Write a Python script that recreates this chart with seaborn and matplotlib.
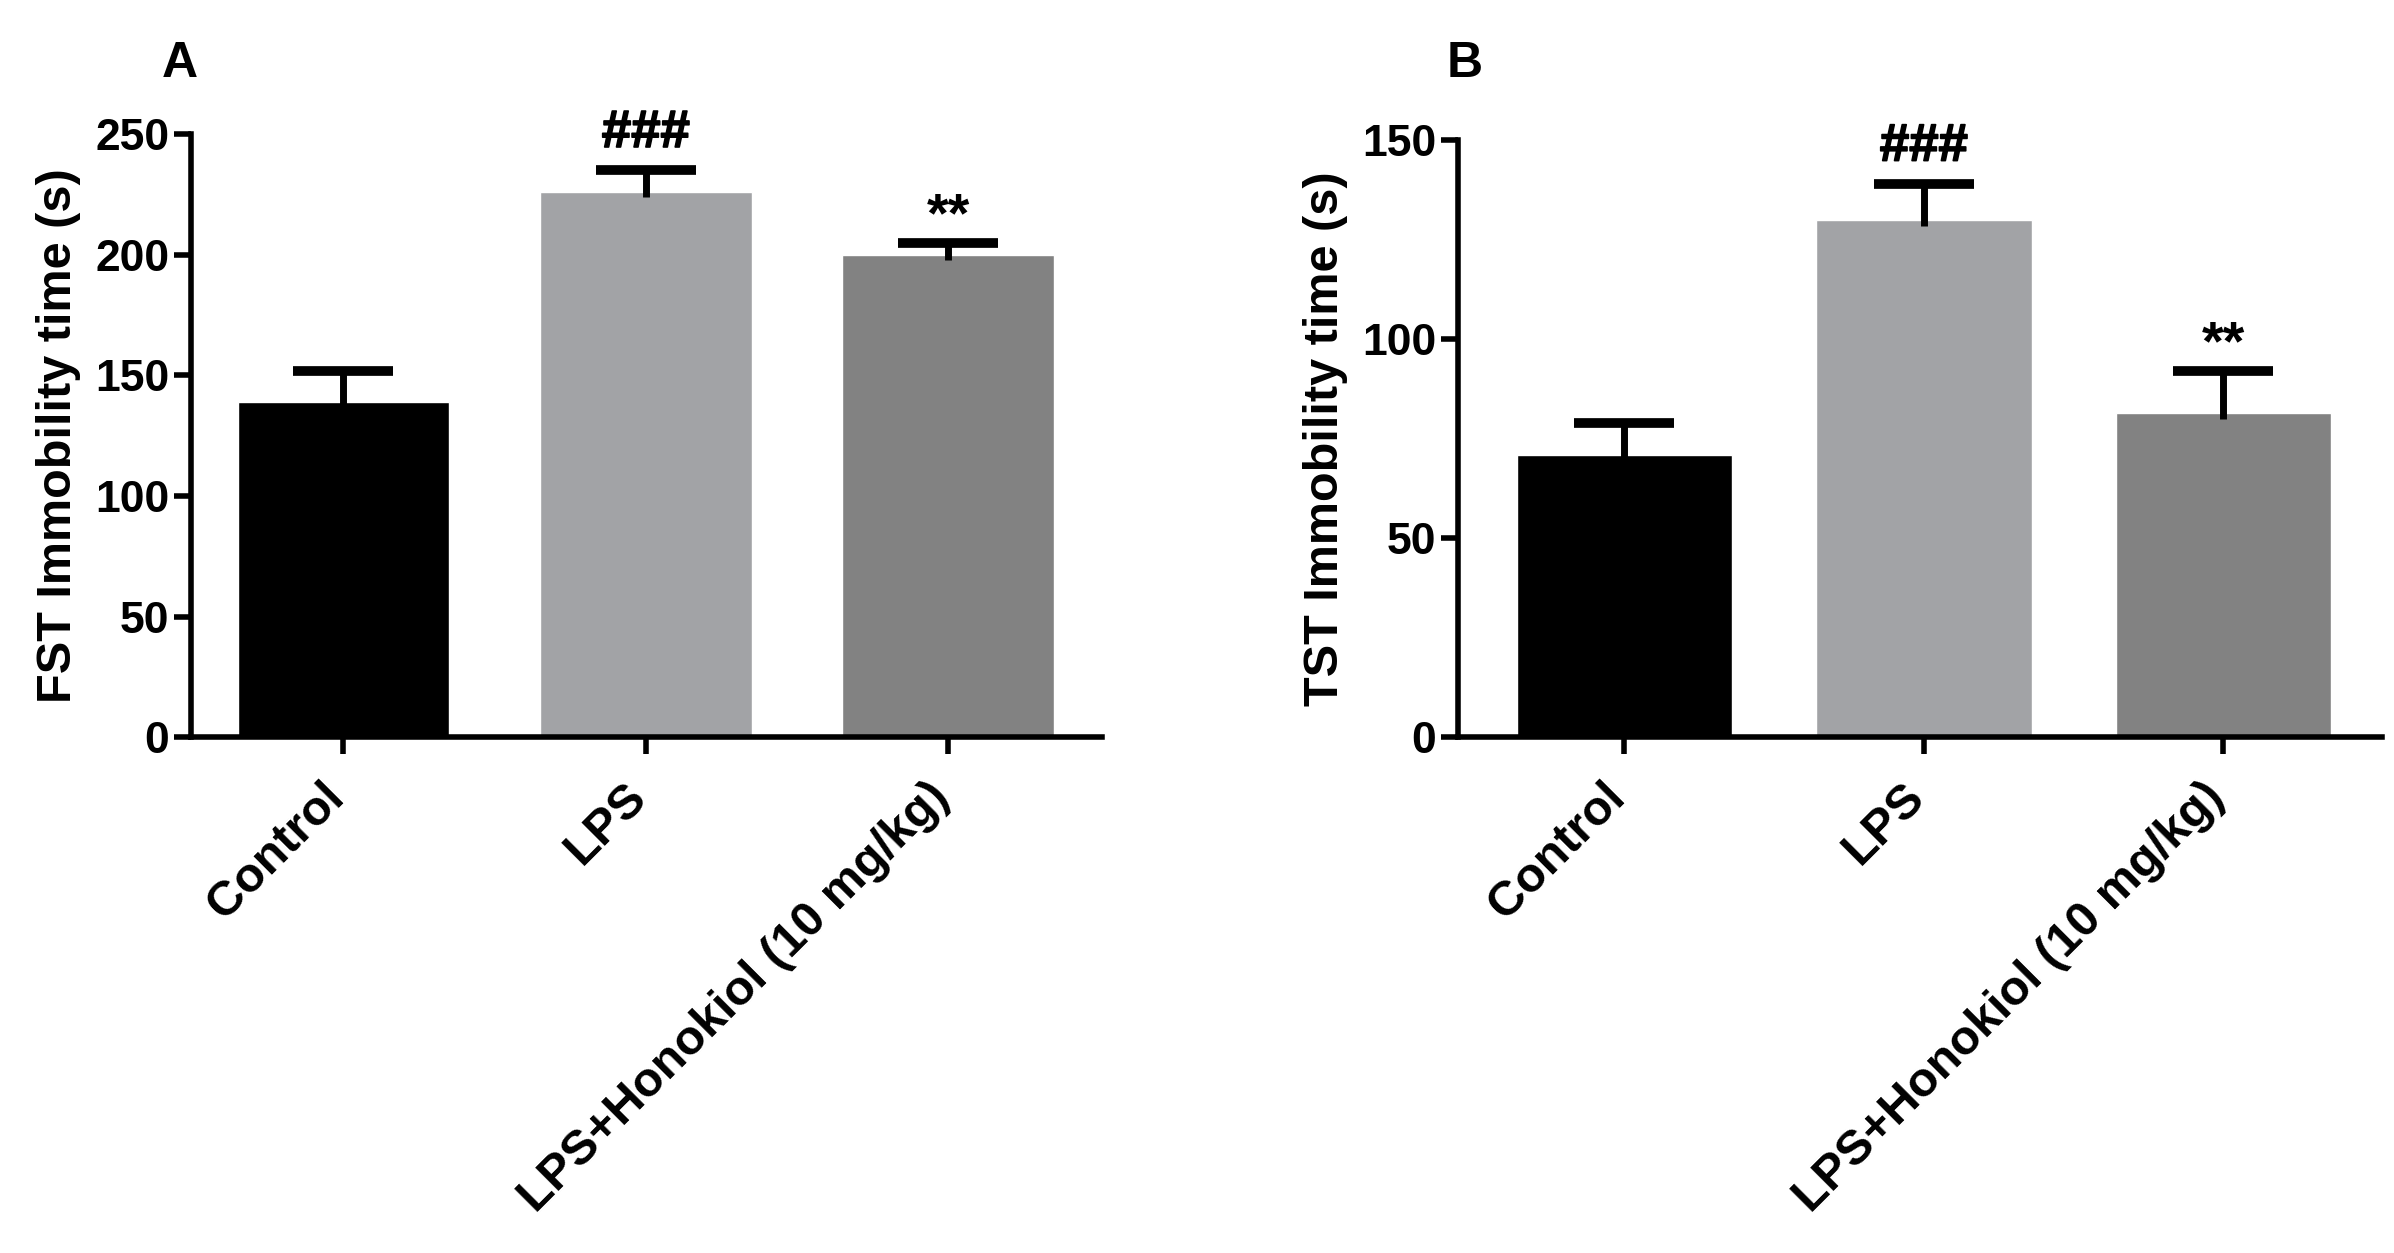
import matplotlib
matplotlib.use("Agg")
import matplotlib.pyplot as plt
import matplotlib.patheffects as pe
import matplotlib.transforms as mtransforms
import seaborn as sns
import numpy as np

sns.set_theme(style="white")
plt.rcParams['font.family'] = ['Liberation Sans', 'DejaVu Sans']
plt.rcParams['font.weight'] = 'bold'
plt.rcParams['text.color'] = 'black'
plt.rcParams['axes.labelcolor'] = 'black'
plt.rcParams['xtick.color'] = 'black'
plt.rcParams['ytick.color'] = 'black'

# data
groups = ['Control', 'LPS', 'LPS+Honokiol (10 mg/kg)']
colors = ['#000000', '#a2a3a6', '#828282']

fst_mean = [139, 226, 200]
fst_sem = [13, 9, 5]
fst_marks = ['', '###', '**']

tst_mean = [71, 130, 81.5]
tst_sem = [8, 9, 10.5]
tst_marks = ['', '###', '**']

fig = plt.figure(figsize=(23.94, 12.53), dpi=100)
fig.patch.set_facecolor('white')

ax_a = fig.add_axes([0.0797, 0.4117, 0.3808, 0.4811])
ax_b = fig.add_axes([0.609, 0.4117, 0.386, 0.4763])

thick = [pe.withStroke(linewidth=1.2, foreground='black')]


def draw_panel(ax, means, sems, marks, ylabel, ymax, yticks, width, xlim, dip):
    sns.barplot(x=groups, y=means, hue=groups, palette=colors, legend=False,
                width=width, saturation=1, ax=ax)
    pos = np.arange(len(groups))
    # one-sided error bars, stem dips a little into the bar
    eb = ax.errorbar(pos, means, yerr=[np.full(len(sems), dip), sems], fmt='none',
                     ecolor='black', elinewidth=5, capsize=36, capthick=7)
    eb[1][0].set_visible(False)
    for x, m, s, t in zip(pos, means, sems, marks):
        if t == '###':
            ax.annotate(t, (x, m + s), xytext=(0, 9), textcoords='offset points',
                        ha='center', va='bottom', fontsize=38, fontweight='bold',
                        path_effects=thick)
        elif t:
            ax.annotate(t, (x, m + s), xytext=(0, 0), textcoords='offset points',
                        ha='center', va='bottom', fontsize=40, fontweight='bold')
    ax.set_ylim(0, ymax)
    ax.set_xlim(*xlim)
    ax.set_ylabel(ylabel, fontsize=35, fontweight='bold', labelpad=10)
    ax.set_xlabel('')
    for sp in ['top', 'right']:
        ax.spines[sp].set_visible(False)
    for sp in ['left', 'bottom']:
        ax.spines[sp].set_linewidth(4)
        ax.spines[sp].set_color('black')
    ax.tick_params(axis='both', direction='out', length=12, width=4, color='black',
                   left=True, bottom=True)
    ax.set_xticks(pos)
    ax.set_xticklabels(groups, rotation=45, ha='right', rotation_mode='anchor',
                       fontsize=35, fontweight='bold')
    shift = mtransforms.ScaledTranslation(-16 / 72, -11 / 72, fig.dpi_scale_trans)
    for lab in ax.get_xticklabels():
        lab.set_transform(lab.get_transform() + shift)
    ax.set_yticks(yticks)
    ax.set_yticklabels([str(v) for v in yticks], fontsize=32, fontweight='bold')


draw_panel(ax_a, fst_mean, fst_sem, fst_marks, 'FST Immobility time (s)',
           250, [0, 50, 100, 150, 200, 250], 0.7, (-0.505, 2.51), 2)
draw_panel(ax_b, tst_mean, tst_sem, tst_marks, 'TST Immobility time (s)',
           150, [0, 50, 100, 150], 0.72, (-0.556, 2.53), 1.5)

fig.text(0.0753, 0.949, 'A', fontsize=36, fontweight='bold', ha='center', va='center')
fig.text(0.612, 0.949, 'B', fontsize=36, fontweight='bold', ha='center', va='center')

fig.savefig('out.png', dpi=100, facecolor='white')
